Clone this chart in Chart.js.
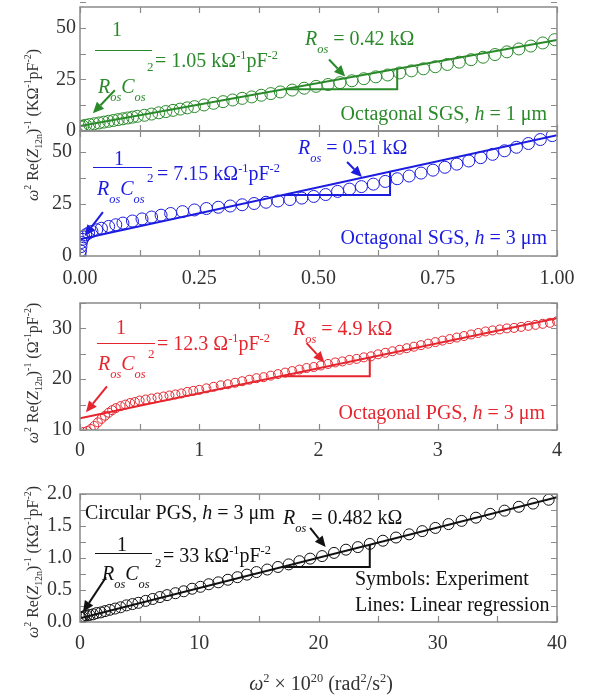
<!DOCTYPE html>
<html><head><meta charset="utf-8">
<script src="https://cdn.jsdelivr.net/npm/chart.js@4.4.1/dist/chart.umd.min.js"></script>
<style>
html,body{margin:0;padding:0;background:#fff;}
#wrap{position:relative;width:592px;height:700px;overflow:hidden;}
#wrap canvas{position:absolute;left:0;top:0;}
</style></head>
<body><div id="wrap">
<canvas id="c1" width="592" height="700" style="width:592px;height:700px"></canvas>
<canvas id="c2" width="592" height="700" style="width:592px;height:700px"></canvas>
<canvas id="c3" width="592" height="700" style="width:592px;height:700px"></canvas>
<canvas id="c4" width="592" height="700" style="width:592px;height:700px"></canvas>
</div>
<script>
// ---------------- DATA ----------------
// Panel 1: Octagonal SGS, h = 1 um
const SGS1_X = [0.002,0.006,0.012,0.02,0.03,0.04,0.05,0.06,0.07,0.08,0.09,0.10,0.11,0.12,0.135,0.15,0.165,0.18,0.195,0.21,0.225,0.24,0.26,0.28,0.30,0.32,0.34,0.36,0.38,0.40,0.42,0.445,0.47,0.495,0.52,0.545,0.57,0.595,0.62,0.645,0.67,0.695,0.72,0.745,0.77,0.795,0.82,0.845,0.87,0.895,0.92,0.945,0.97,0.995];
const SGS1_Y = [2.0,2.4,2.8,3.1,3.5,3.9,4.3,4.7,5.1,5.5,5.9,6.3,6.7,7.1,7.6,8.2,8.8,9.4,10.0,10.6,11.2,11.8,12.6,13.4,14.2,15.0,15.8,16.5,17.3,18.1,18.9,19.8,20.7,21.6,22.5,23.4,24.3,25.3,26.2,27.1,28.1,29.1,30.1,31.1,32.2,33.3,34.5,35.7,37.0,38.3,39.7,41.1,42.6,44.2];
const FIT1_X = [0, 1];
const FIT1_Y = [2.4, 44.0];

// Panel 2: Octagonal SGS, h = 3 um
const SGS3_X = [0.000,0.001,0.002,0.003,0.005,0.008,0.012,0.018,0.025,0.035,0.045,0.06,0.075,0.09,0.11,0.13,0.15,0.17,0.19,0.215,0.24,0.265,0.29,0.315,0.34,0.365,0.39,0.415,0.44,0.465,0.49,0.515,0.54,0.565,0.59,0.615,0.64,0.665,0.69,0.715,0.74,0.765,0.79,0.815,0.84,0.865,0.89,0.915,0.94,0.965,0.99];
const SGS3_Y = [0.5,2.5,4.5,6.5,8.0,9.2,10.2,11.0,11.8,12.6,13.3,14.2,15.0,15.8,16.8,17.8,18.7,19.6,20.4,21.3,22.1,22.8,23.4,24.0,24.6,25.2,25.8,26.4,27.1,27.8,28.6,29.5,31.0,32.1,33.3,34.5,35.8,37.1,38.4,39.8,41.2,42.6,44.1,45.6,47.2,48.8,50.5,52.2,54.0,55.9,57.8];
const FIT2_X = [0, 1];
const FIT2_Y = [8.0, 58.0];

// Panel 3: Octagonal PGS, h = 3 um
const PGS_X = [0.03,0.06,0.09,0.12,0.15,0.18,0.21,0.24,0.27,0.30,0.34,0.38,0.42,0.46,0.50,0.55,0.60,0.65,0.70,0.75,0.80,0.85,0.90,0.95,1.00,1.06,1.12,1.18,1.24,1.30,1.36,1.42,1.48,1.54,1.60,1.66,1.72,1.78,1.84,1.90,1.96,2.02,2.08,2.14,2.20,2.26,2.32,2.38,2.44,2.50,2.56,2.62,2.68,2.74,2.80,2.86,2.92,2.98,3.04,3.10,3.16,3.22,3.28,3.34,3.40,3.46,3.52,3.58,3.64,3.70,3.76,3.82,3.88,3.94,4.00];
const PGS_Y = [9.6,9.8,10.2,10.8,11.5,12.2,12.8,13.4,13.9,14.3,14.7,15.0,15.3,15.5,15.8,16.0,16.2,16.4,16.6,16.8,17.0,17.2,17.5,17.7,17.9,18.2,18.5,18.8,19.0,19.3,19.6,19.9,20.2,20.4,20.7,21.0,21.3,21.6,21.9,22.2,22.4,22.7,23.0,23.3,23.5,23.8,24.0,24.3,24.5,24.9,25.2,25.5,25.8,26.1,26.4,26.7,27.0,27.3,27.6,27.9,28.2,28.5,28.8,29.1,29.4,29.6,29.8,30.0,30.1,30.3,30.5,30.7,30.9,31.1,31.4];
const FIT3_X = [0, 4];
const FIT3_Y = [12.3, 32.0];

// Panel 4: Circular PGS, h = 3 um
const CIRC_X = [0.02,0.08,0.2,0.35,0.55,0.8,1.1,1.4,1.75,2.1,2.5,2.95,3.4,3.9,4.4,4.9,5.5,6.1,6.7,7.3,8.0,8.7,9.4,10.1,10.8,11.6,12.4,13.2,14.0,14.8,15.7,16.6,17.5,18.4,19.3,20.3,21.3,22.3,23.3,24.3,25.4,26.5,27.6,28.7,29.8,30.9,32.0,33.2,34.4,35.6,36.8,38.0,39.3];
const CIRC_Y = [0.07,0.07,0.08,0.09,0.10,0.11,0.12,0.14,0.15,0.17,0.19,0.21,0.23,0.26,0.28,0.30,0.33,0.36,0.39,0.42,0.45,0.48,0.52,0.55,0.59,0.62,0.66,0.70,0.74,0.78,0.82,0.86,0.90,0.95,0.99,1.03,1.08,1.13,1.17,1.22,1.27,1.32,1.37,1.42,1.47,1.53,1.58,1.63,1.69,1.74,1.80,1.85,1.91];
const FIT4_X = [0, 40];
const FIT4_Y = [0.06, 1.95];

// Tick values and labels
const TOP_XTICKS = [0, 0.25, 0.5, 0.75, 1];
const TOP_XLABELS = ['0.00', '0.25', '0.50', '0.75', '1.00'];
const TOP_YTICKS = [0, 25, 50];
const TOP_YLABELS = ['0', '25', '50'];
const P3_XTICKS = [0, 1, 2, 3, 4];
const P3_XLABELS = ['0', '1', '2', '3', '4'];
const P3_YTICKS = [10, 20, 30];
const P3_YLABELS = ['10', '20', '30'];
const P4_XTICKS = [0, 10, 20, 30, 40];
const P4_XLABELS = ['0', '10', '20', '30', '40'];
const P4_YTICKS = [0, 0.5, 1, 1.5, 2];
const P4_YLABELS = ['0.0', '0.5', '1.0', '1.5', '2.0'];

// ---------------- STYLE ----------------
const FONT = '"Liberation Serif", "Times New Roman", serif';
const GREEN = '#2a8a2a', BLUE = '#1c1ce0', RED = '#e5262f', BLACK = '#111111';
const AXIS = '#8a8a8a';

function pts(xs, ys) { return xs.map((x, i) => ({x: x, y: ys[i]})); }
function setFont(ctx, size, ital) { ctx.font = (ital ? 'italic ' : '') + size + 'px ' + FONT; }
const n = t => ({k: 'n', t}), it = t => ({k: 'i', t}), sp = t => ({k: 'sup', t}), sb = t => ({k: 'sub', t}), isb = t => ({k: 'isub', t});

function drawRich(ctx, x, y, segs, fs, align) {
  const meas = segs.map(s => {
    const small = (s.k !== 'n' && s.k !== 'i');
    const size = small ? fs * 0.62 : fs;
    const ital = (s.k === 'i' || s.k === 'isub');
    setFont(ctx, size, ital);
    let dy = 0;
    if (s.k === 'sup') dy = -fs * 0.42;
    if (s.k === 'sub') dy = fs * 0.25;
    if (s.k === 'isub') dy = fs * 0.38;
    return {s, size, ital, dy, w: ctx.measureText(s.t).width};
  });
  const total = meas.reduce((a, m) => a + m.w, 0);
  let cx = align === 'center' ? x - total / 2 : (align === 'right' ? x - total : x);
  ctx.textAlign = 'left'; ctx.textBaseline = 'alphabetic';
  for (const m of meas) { setFont(ctx, m.size, m.ital); ctx.fillText(m.s.t, cx, y + m.dy); cx += m.w; }
  return total;
}

function arrow(ctx, x1, y1, x2, y2, color) {
  const ang = Math.atan2(y2 - y1, x2 - x1), L = 11, W = 5;
  const bx = x2 - L * Math.cos(ang), by = y2 - L * Math.sin(ang);
  ctx.strokeStyle = color; ctx.fillStyle = color; ctx.lineWidth = 2;
  ctx.beginPath(); ctx.moveTo(x1, y1); ctx.lineTo(bx, by); ctx.stroke();
  ctx.beginPath(); ctx.moveTo(x2, y2);
  ctx.lineTo(bx + W * Math.sin(ang), by - W * Math.cos(ang));
  ctx.lineTo(bx - W * Math.sin(ang), by + W * Math.cos(ang));
  ctx.closePath(); ctx.fill();
}

function drawFrac(ctx, f, color, eqSegs) {
  ctx.fillStyle = color; ctx.strokeStyle = color;
  setFont(ctx, 20, false); ctx.textAlign = 'center'; ctx.textBaseline = 'alphabetic';
  ctx.fillText('1', f.oneX, f.oneY);
  ctx.lineWidth = 1.2; ctx.beginPath(); ctx.moveTo(f.bx1, f.by + 0.5); ctx.lineTo(f.bx2, f.by + 0.5); ctx.stroke();
  drawRich(ctx, f.rX, f.rY, [it('R'), isb('os'), it('C'), isb('os')], 20, 'left');
  setFont(ctx, 13, false); ctx.textAlign = 'left'; ctx.fillText('2', f.sqX, f.sqY);
  drawRich(ctx, f.eqX, f.eqY, eqSegs, 20, 'left');
}

function yTitle(ctx, cx, cy, unitSegs) {
  ctx.save(); ctx.translate(cx, cy); ctx.rotate(-Math.PI / 2); ctx.fillStyle = '#333';
  drawRich(ctx, 0, 0, [it('ω'), sp('2'), n(' Re('), it('Z'), sb('12n'), n(')'), sp('-1'), n(' (')].concat(unitSegs, [n(')')]), 16, 'center');
  ctx.restore();
}

function makePanel(cfg) {
  const overlay = {
    id: 'ov_' + cfg.id,
    afterDraw(chart) {
      const ctx = chart.ctx, a = chart.chartArea, xs = chart.scales.x, ys = chart.scales.y;
      ctx.save();
      // inward ticks on all four sides
      ctx.strokeStyle = AXIS; ctx.lineWidth = 1.2;
      const nx = Math.round((cfg.xmax - cfg.xmin) / cfg.xMinor);
      for (let i = 0; i <= nx; i++) {
        const p = Math.round(xs.getPixelForValue(cfg.xmin + i * cfg.xMinor)) + 0.5;
        ctx.beginPath(); ctx.moveTo(p, a.bottom); ctx.lineTo(p, a.bottom - 6); ctx.moveTo(p, a.top); ctx.lineTo(p, a.top + 6); ctx.stroke();
      }
      const ny = Math.round((cfg.ymax - cfg.ymin) / cfg.yMinor);
      for (let i = 0; i <= ny; i++) {
        const p = Math.round(ys.getPixelForValue(cfg.ymin + i * cfg.yMinor)) + 0.5;
        ctx.beginPath(); ctx.moveTo(a.left, p); ctx.lineTo(a.left + 6, p); ctx.moveTo(a.right, p); ctx.lineTo(a.right - 6, p); ctx.stroke();
      }
      ctx.lineWidth = 1.5; ctx.strokeRect(a.left, a.top, a.right - a.left, a.bottom - a.top);
      // slope triangle
      const t = cfg.tri;
      ctx.strokeStyle = cfg.color; ctx.lineWidth = 2;
      ctx.beginPath();
      ctx.moveTo(xs.getPixelForValue(t.x1), ys.getPixelForValue(t.y1));
      ctx.lineTo(xs.getPixelForValue(t.x2), ys.getPixelForValue(t.y1));
      ctx.lineTo(xs.getPixelForValue(t.x2), ys.getPixelForValue(t.y2));
      ctx.stroke();
      // arrows
      for (const ar of cfg.arrows) {
        arrow(ctx, xs.getPixelForValue(ar[0]), ys.getPixelForValue(ar[1]), xs.getPixelForValue(ar[2]), ys.getPixelForValue(ar[3]), cfg.color);
      }
      // texts
      drawFrac(ctx, cfg.frac, cfg.color, cfg.eq);
      ctx.fillStyle = cfg.color;
      drawRich(ctx, cfg.ros.x, cfg.ros.y, [it('R'), isb('os'), n(' = ' + cfg.ros.t)], 20, 'left');
      for (const lb of cfg.labels) { ctx.fillStyle = cfg.color; drawRich(ctx, lb.x, lb.y, lb.segs, 20, lb.align); }
      if (cfg.ytitle) yTitle(ctx, cfg.ytitle.x, cfg.ytitle.y, cfg.ytitle.unit);
      if (cfg.xtitle) { ctx.fillStyle = '#333'; drawRich(ctx, 321, 690, [it('ω'), sp('2'), n(' × 10'), sp('20'), n(' (rad'), sp('2'), n('/s'), sp('2'), n(')')], 20, 'center'); }
      ctx.restore();
    }
  };
  return new Chart(document.getElementById(cfg.id), {
    type: 'scatter',
    data: {datasets: [
      {data: cfg.fit, showLine: true, pointRadius: 0, borderColor: cfg.color, borderWidth: 2, clip: 0, order: 1},
      {data: cfg.pts, showLine: false, pointStyle: 'circle', pointRadius: cfg.r, pointBorderWidth: 1,
       pointBorderColor: cfg.color, pointBackgroundColor: 'rgba(0,0,0,0)', clip: 0, order: 2}
    ]},
    options: {
      responsive: false, animation: false, events: [],
      layout: {padding: {left: 40, right: 35, top: cfg.top, bottom: cfg.bottom}},
      plugins: {legend: {display: false}, tooltip: {enabled: false}},
      scales: {
        x: {type: 'linear', min: cfg.xmin, max: cfg.xmax,
            afterBuildTicks: s => { s.ticks = cfg.xticks.map(v => ({value: v})); },
            ticks: {display: cfg.showX, padding: cfg.xpad, color: '#333', font: {family: FONT, size: 20}, maxRotation: 0, autoSkip: false,
                    callback: (v, i) => cfg.xlabels[i]},
            grid: {display: false, drawTicks: false}, border: {display: false},
            afterFit: s => { s.height = cfg.xh; s.paddingLeft = 0; s.paddingRight = 0; }},
        y: {type: 'linear', min: cfg.ymin, max: cfg.ymax,
            afterBuildTicks: s => { s.ticks = cfg.yticks.map(v => ({value: v})); },
            ticks: {padding: cfg.ypad, color: '#333', font: {family: FONT, size: 20}, autoSkip: false,
                    callback: (v, i) => cfg.ylabels[i]},
            grid: {display: false, drawTicks: false}, border: {display: false},
            afterFit: s => { s.width = 40; s.paddingTop = 0; s.paddingBottom = 0; }}
      }
    },
    plugins: [overlay]
  });
}

const KUNIT = [n('KΩ'), sp('-1'), n('pF'), sp('-2')];

makePanel({id: 'c1', color: GREEN, r: 6, pts: pts(SGS1_X, SGS1_Y), fit: pts(FIT1_X, FIT1_Y),
  xmin: 0, xmax: 1, ymin: 0, ymax: 60, xticks: TOP_XTICKS, xlabels: TOP_XLABELS, yticks: TOP_YTICKS, ylabels: TOP_YLABELS,
  xMinor: 0.125, yMinor: 12.5, showX: false, top: 6, bottom: 569, xh: 0, xpad: 0, ypad: 4,
  tri: {x1: 0.43, x2: 0.665, y1: 20.2, y2: 30.1},
  arrows: [[0.073, 19.7, 0.027, 8.6], [0.522, 34.6, 0.556, 26.4]],
  frac: {oneX: 117, oneY: 36, bx1: 95, bx2: 152, by: 50, rX: 98, rY: 93, sqX: 147, sqY: 71, eqX: 155, eqY: 67},
  eq: [n('= 1.05 kΩ'), sp('-1'), n('pF'), sp('-2')],
  ros: {x: 305, y: 45, t: '0.42 kΩ'},
  labels: [{x: 547, y: 120, align: 'right', segs: [n('Octagonal SGS, '), it('h'), n(' = 1 μm')]}]
});

makePanel({id: 'c2', color: BLUE, r: 6, pts: pts(SGS3_X, SGS3_Y), fit: pts(FIT2_X, FIT2_Y),
  xmin: 0, xmax: 1, ymin: 0, ymax: 60, xticks: TOP_XTICKS, xlabels: TOP_XLABELS, yticks: TOP_YTICKS, ylabels: TOP_YLABELS,
  xMinor: 0.125, yMinor: 12.5, showX: true, top: 131, bottom: 404, xh: 40, xpad: 11, ypad: 8,
  tri: {x1: 0.426, x2: 0.65, y1: 29.3, y2: 40.5},
  arrows: [[0.048, 21.1, 0.010, 9.6], [0.56, 45.1, 0.591, 37.9]],
  frac: {oneX: 119, oneY: 165, bx1: 93, bx2: 152, by: 167, rX: 97, rY: 195, sqX: 147, sqY: 182, eqX: 157, eqY: 180},
  eq: [n('= 7.15 kΩ'), sp('-1'), n('pF'), sp('-2')],
  ros: {x: 298, y: 154, t: '0.51 kΩ'},
  labels: [{x: 547, y: 244, align: 'right', segs: [n('Octagonal SGS, '), it('h'), n(' = 3 μm')]}],
  ytitle: {x: 38, y: 125, unit: KUNIT}
});

makePanel({id: 'c3', color: RED, r: 4.5, pts: pts(PGS_X, PGS_Y), fit: pts(FIT3_X, FIT3_Y),
  xmin: 0, xmax: 4, ymin: 10, ymax: 35, xticks: P3_XTICKS, xlabels: P3_XLABELS, yticks: P3_YTICKS, ylabels: P3_YLABELS,
  xMinor: 0.5, yMinor: 5, showX: true, top: 303, bottom: 230, xh: 40, xpad: 9, ypad: 8,
  tri: {x1: 1.68, x2: 2.43, y1: 20.6, y2: 24.3},
  arrows: [[0.226, 18.6, 0.05, 13.5], [1.90, 27.1, 2.05, 23.3]],
  frac: {oneX: 121, oneY: 334, bx1: 97, bx2: 155, by: 343, rX: 98, rY: 370, sqX: 148, sqY: 358, eqX: 157, eqY: 350},
  eq: [n('= 12.3 Ω'), sp('-1'), n('pF'), sp('-2')],
  ros: {x: 293, y: 335, t: '4.9 kΩ'},
  labels: [{x: 545, y: 419, align: 'right', segs: [n('Octagonal PGS, '), it('h'), n(' = 3 μm')]}],
  ytitle: {x: 38, y: 373, unit: [n('Ω'), sp('-1'), n('pF'), sp('-2')]}
});

makePanel({id: 'c4', color: BLACK, r: 5.5, pts: pts(CIRC_X, CIRC_Y), fit: pts(FIT4_X, FIT4_Y),
  xmin: 0, xmax: 40, ymin: 0, ymax: 2, xticks: P4_XTICKS, xlabels: P4_XLABELS, yticks: P4_YTICKS, ylabels: P4_YLABELS,
  xMinor: 5, yMinor: 0.25, showX: true, top: 494, bottom: 38, xh: 40, xpad: 10, ypad: 8,
  tri: {x1: 16.9, x2: 24.3, y1: 0.86, y2: 1.21},
  arrows: [[2.18, 0.70, 0.25, 0.156], [19.3, 1.47, 20.6, 1.17]],
  frac: {oneX: 122, oneY: 551, bx1: 95, bx2: 152, by: 553, rX: 102, rY: 580, sqX: 155, sqY: 567, eqX: 163, eqY: 562},
  eq: [n('= 33 kΩ'), sp('-1'), n('pF'), sp('-2')],
  ros: {x: 283, y: 524, t: '0.482 kΩ'},
  labels: [
    {x: 85, y: 519, align: 'left', segs: [n('Circular PGS, '), it('h'), n(' = 3 μm')]},
    {x: 355, y: 585, align: 'left', segs: [n('Symbols: Experiment')]},
    {x: 355, y: 611, align: 'left', segs: [n('Lines: Linear regression')]}
  ],
  ytitle: {x: 38, y: 562, unit: KUNIT},
  xtitle: true
});
</script>
</body></html>
